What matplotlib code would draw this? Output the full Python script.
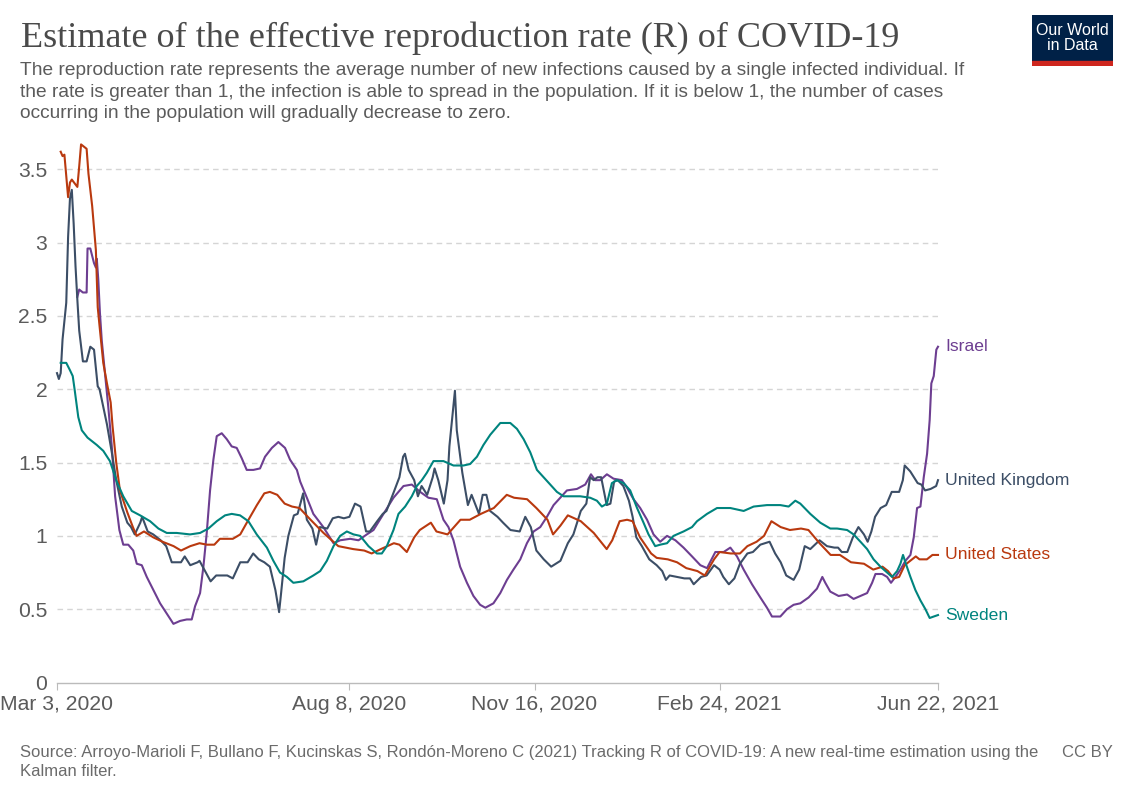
import matplotlib
matplotlib.use("Agg")
import matplotlib.pyplot as plt
import matplotlib.dates as mdates
import numpy as np
from datetime import datetime

# days since Mar 3, 2020 -> R estimate
us_days = [2, 3, 4, 6, 7, 8, 11, 12, 13, 16, 17, 19, 21, 22, 23, 25, 27, 29, 30, 32, 34, 38, 41, 43, 47, 52, 57, 63, 67,
           72, 77, 81, 85, 88, 95, 99, 103, 108, 112, 115, 119, 123, 127, 131, 137, 144, 152, 160, 166, 170, 175, 182,
           185, 189, 193, 196, 202, 205, 211, 218, 223, 229, 236, 243, 247, 254, 259, 265, 268, 272, 276, 283, 290,
           297, 300, 304, 308, 311, 315, 321, 324, 330, 335, 340, 346, 350, 355, 358, 364, 369, 373, 378, 382, 386,
           391, 396, 402, 406, 412, 418, 423, 429, 436, 441, 446, 449, 452, 455, 458, 464, 466, 470, 473, 476]
us_vals = [3.62, 3.59, 3.60, 3.31, 3.41, 3.43, 3.38, 3.52, 3.67, 3.64, 3.47, 3.25, 2.95, 2.56, 2.43, 2.18, 2.04, 1.91,
           1.75, 1.50, 1.31, 1.16, 1.06, 1.00, 1.03, 0.99, 0.96, 0.93, 0.90, 0.93, 0.95, 0.94, 0.94, 0.98, 0.98, 1.01,
           1.10, 1.21, 1.29, 1.30, 1.28, 1.22, 1.20, 1.19, 1.11, 1.02, 0.93, 0.91, 0.90, 0.88, 0.91, 0.95, 0.94, 0.89,
           0.99, 1.04, 1.09, 1.03, 1.01, 1.11, 1.11, 1.15, 1.19, 1.28, 1.26, 1.25, 1.19, 1.11, 1.01, 1.07, 1.14, 1.10,
           1.02, 0.91, 0.97, 1.10, 1.11, 1.10, 0.99, 0.88, 0.85, 0.84, 0.82, 0.78, 0.76, 0.73, 0.84, 0.89, 0.88, 0.88,
           0.93, 0.96, 1.00, 1.10, 1.06, 1.04, 1.05, 1.04, 0.95, 0.87, 0.87, 0.82, 0.81, 0.77, 0.79, 0.76, 0.71, 0.72,
           0.80, 0.86, 0.84, 0.84, 0.87, 0.87]

uk_days = [0, 1, 2, 3, 5, 6, 7, 8, 9, 10, 11, 12, 14, 16, 18, 20, 22, 23, 25, 27, 30, 32, 35, 38, 40, 42, 45, 46, 49,
           52, 56, 59, 62, 67, 69, 72, 76, 77, 80, 83, 86, 92, 95, 99, 103, 106, 109, 112, 115, 118, 120, 121, 123,
           125, 128, 130, 133, 135, 138, 140, 142, 146, 149, 152, 155, 158, 161, 164, 167, 169, 173, 176, 178, 182,
           185, 187, 188, 190, 193, 195, 197, 200, 203, 204, 206, 209, 211, 212, 215, 216, 219, 222, 224, 228, 230,
           232, 234, 238, 241, 245, 250, 253, 256, 259, 263, 267, 272, 276, 279, 283, 286, 288, 290, 292, 294, 297,
           299, 301, 303, 306, 309, 311, 313, 316, 320, 324, 327, 329, 331, 335, 339, 342, 344, 348, 351, 355, 358,
           360, 363, 366, 369, 373, 376, 380, 385, 388, 391, 394, 398, 401, 404, 407, 412, 416, 420, 422, 424, 427,
           430, 433, 436, 438, 440, 442, 445, 448, 449, 451, 455, 457, 458, 461, 465, 467, 469, 472, 475, 476]
uk_vals = [2.11, 2.07, 2.11, 2.34, 2.59, 3.04, 3.30, 3.36, 3.13, 2.84, 2.61, 2.40, 2.19, 2.19, 2.29, 2.27, 2.02, 2.00,
           1.88, 1.76, 1.54, 1.38, 1.20, 1.09, 1.06, 1.01, 1.09, 1.13, 1.03, 1.01, 0.97, 0.93, 0.82, 0.82, 0.86, 0.80,
           0.82, 0.83, 0.76, 0.69, 0.73, 0.73, 0.71, 0.82, 0.82, 0.88, 0.84, 0.82, 0.79, 0.63, 0.48, 0.60, 0.85, 1.00,
           1.14, 1.15, 1.29, 1.11, 1.05, 0.94, 1.06, 1.05, 1.12, 1.13, 1.12, 1.13, 1.22, 1.20, 1.03, 1.03, 1.10, 1.15,
           1.17, 1.30, 1.40, 1.54, 1.56, 1.45, 1.38, 1.27, 1.34, 1.28, 1.40, 1.46, 1.38, 1.22, 1.38, 1.61, 1.99, 1.72,
           1.43, 1.21, 1.28, 1.15, 1.28, 1.28, 1.17, 1.13, 1.09, 1.04, 1.03, 1.13, 1.06, 0.90, 0.84, 0.79, 0.83, 0.95,
           1.01, 1.17, 1.22, 1.40, 1.38, 1.40, 1.40, 1.21, 1.22, 1.37, 1.38, 1.34, 1.24, 1.13, 0.99, 0.93, 0.84, 0.80,
           0.76, 0.70, 0.73, 0.72, 0.71, 0.71, 0.67, 0.72, 0.73, 0.80, 0.77, 0.72, 0.67, 0.71, 0.81, 0.88, 0.89, 0.94,
           0.96, 0.88, 0.82, 0.73, 0.70, 0.77, 0.93, 0.91, 0.97, 0.93, 0.92, 0.92, 0.89, 0.89, 0.99, 1.06, 1.01, 0.96,
           1.03, 1.13, 1.19, 1.21, 1.24, 1.30, 1.30, 1.38, 1.48, 1.44, 1.36, 1.35, 1.31, 1.32, 1.34, 1.38]

israel_days = [11, 12, 14, 16, 16.5, 18, 20, 21, 21.5, 22.3, 23.2, 24.2, 25.9, 27.7, 29.6, 31.4, 33.7, 35.8, 38.5,
               41.2, 43.1, 45.8, 48.5, 52.1, 55.7, 59.3, 62.9, 66.5, 70.1, 72.8, 74.6, 77.3, 79.1, 80.9, 82.7, 84.5,
               86.3, 89, 91.7, 94.4, 97.1, 99.8, 102.5, 106.1, 109.7, 112.4, 116.1, 119.6, 123.2, 125.9, 129.6, 131.4,
               135, 138.5, 143.9, 149.4, 153, 158.4, 162.9, 167.4, 171, 176.4, 181.8, 187.2, 191.7, 196.2, 200.7,
               205.2, 208.8, 211.5, 214.2, 217.8, 221.5, 225, 228.6, 231.4, 235.8, 239.5, 243.1, 246.6, 250.3, 253.9,
               257.5, 261.1, 264.7, 268.3, 271.9, 275.5, 280.9, 285.4, 288.5, 290.8, 293.5, 297.1, 300.7, 305.2,
               307.9, 311.5, 315.1, 318.8, 322.3, 325.9, 329.6, 334.1, 338.5, 343.1, 347.6, 351.2, 355.7, 360.2,
               363.8, 367.4, 371, 375.5, 380, 383.6, 386.3, 390.8, 394.4, 398, 401.6, 406.1, 410.6, 413.5, 415.1,
               417.8, 422.3, 426.9, 430.4, 434.1, 437.7, 440.4, 442.2, 445.8, 448.5, 450.6, 453, 455.7, 458.4, 461.1,
               462.9, 464.7, 466.5, 468.3, 470.1, 471.5, 472.4, 473.7, 475.1, 476]
israel_vals = [2.63, 2.68, 2.66, 2.66, 2.96, 2.96, 2.86, 2.83, 2.89, 2.75, 2.52, 2.33, 2.11, 1.88, 1.61, 1.27, 1.04,
               0.94, 0.94, 0.90, 0.81, 0.80, 0.72, 0.63, 0.54, 0.47, 0.40, 0.42, 0.43, 0.43, 0.52, 0.61, 0.79, 1.02,
               1.31, 1.52, 1.68, 1.70, 1.66, 1.61, 1.60, 1.53, 1.45, 1.45, 1.46, 1.54, 1.60, 1.64, 1.60, 1.52, 1.45,
               1.37, 1.26, 1.15, 1.06, 0.95, 0.97, 0.98, 0.97, 1.01, 1.04, 1.15, 1.26, 1.34, 1.35, 1.30, 1.26, 1.25,
               1.11, 1.06, 0.97, 0.79, 0.68, 0.59, 0.53, 0.51, 0.54, 0.61, 0.70, 0.77, 0.84, 0.95, 1.03, 1.06, 1.13,
               1.21, 1.26, 1.31, 1.32, 1.35, 1.42, 1.38, 1.38, 1.42, 1.39, 1.38, 1.33, 1.25, 1.19, 1.11, 1.01, 0.96,
               1.00, 0.97, 0.92, 0.86, 0.80, 0.78, 0.89, 0.89, 0.92, 0.86, 0.77, 0.67, 0.58, 0.51, 0.45, 0.45, 0.50,
               0.53, 0.54, 0.58, 0.64, 0.72, 0.68, 0.62, 0.59, 0.60, 0.57, 0.59, 0.61, 0.68, 0.74, 0.74, 0.72, 0.68,
               0.72, 0.77, 0.83, 0.87, 0.99, 1.19, 1.20, 1.40, 1.56, 1.79, 2.04, 2.09, 2.27, 2.29]

sweden_days = [2, 5, 7, 8.5, 9.5, 11.5, 13.4, 16.5, 21.5, 25, 28.6, 32.3, 35.8, 40.4, 44.9, 50.3, 54.8, 59.3, 64.7,
               71.9, 77.3, 81.8, 86.3, 90.8, 94.4, 98.9, 103.4, 107.9, 113.4, 116.9, 120.5, 124.2, 127.7, 133.1,
               138.5, 142.2, 145.8, 149.4, 153, 156.6, 160.2, 163.8, 168.3, 172.8, 175.5, 178.2, 181.8, 184.5, 188.1,
               191.7, 194.4, 197.1, 199.8, 203.4, 208.8, 214.2, 219.6, 223.2, 226.9, 230.4, 234.1, 239.5, 244.9,
               248.5, 252.1, 255.7, 259.3, 262.9, 266.5, 270.1, 273.7, 282.7, 288.1, 291.7, 294.4, 297.1, 299.8,
               302.5, 306.1, 309.7, 313.4, 316.9, 319.6, 323.2, 325.9, 329.6, 333.1, 338.5, 343.1, 345.8, 351.2,
               356.6, 363.8, 371, 376.4, 383.6, 390.8, 395.3, 398.9, 401.6, 407, 412.4, 417.8, 421.5, 426.9, 430.4,
               434.1, 437.7, 441.2, 444.9, 448.5, 451.2, 453.9, 455.7, 457.1, 458.9, 461.1, 463.8, 466.5, 469.2,
               471.5, 473.7, 476]
sweden_vals = [2.18, 2.18, 2.13, 2.09, 2.00, 1.81, 1.72, 1.67, 1.62, 1.58, 1.51, 1.37, 1.27, 1.17, 1.14, 1.10, 1.05,
               1.02, 1.02, 1.01, 1.02, 1.05, 1.10, 1.14, 1.15, 1.14, 1.10, 1.01, 0.92, 0.83, 0.75, 0.72, 0.68, 0.69,
               0.73, 0.76, 0.83, 0.93, 1.00, 1.03, 1.01, 1.00, 0.93, 0.88, 0.88, 0.93, 1.04, 1.15, 1.20, 1.27, 1.34,
               1.38, 1.43, 1.51, 1.51, 1.48, 1.48, 1.49, 1.54, 1.62, 1.69, 1.77, 1.77, 1.73, 1.66, 1.57, 1.45, 1.40,
               1.35, 1.30, 1.27, 1.27, 1.26, 1.24, 1.20, 1.22, 1.36, 1.38, 1.36, 1.31, 1.19, 1.09, 1.01, 0.93, 0.94,
               0.95, 1.00, 1.03, 1.06, 1.10, 1.15, 1.19, 1.19, 1.17, 1.20, 1.21, 1.21, 1.20, 1.24, 1.22, 1.15, 1.09,
               1.05, 1.05, 1.04, 1.01, 0.96, 0.91, 0.84, 0.79, 0.75, 0.72, 0.76, 0.81, 0.87, 0.80, 0.72, 0.63, 0.56,
               0.50, 0.44, 0.45, 0.46]

tick_dates = [datetime(2020, 3, 3), datetime(2020, 8, 8), datetime(2020, 11, 16), datetime(2021, 2, 24),
              datetime(2021, 6, 22)]
tick_labels = ["Mar 3, 2020", "Aug 8, 2020", "Nov 16, 2020", "Feb 24, 2021", "Jun 22, 2021"]
y_ticks = [0, 0.5, 1, 1.5, 2, 2.5, 3, 3.5]
y_labels = ["0", "0.5", "1", "1.5", "2", "2.5", "3", "3.5"]

series = [
    ("Israel", israel_days, israel_vals, "#6d3e91"),
    ("United Kingdom", uk_days, uk_vals, "#3c4e66"),
    ("United States", us_days, us_vals, "#b9390f"),
    ("Sweden", sweden_days, sweden_vals, "#00847e"),
]

start = mdates.date2num(datetime(2020, 3, 3))
sans = "Liberation Sans"

fig = plt.figure(figsize=(11.33, 8), dpi=100)
ax = fig.add_axes([57 / 1133, 1 - 682.5 / 800, (938 - 57) / 1133, (682.5 - 140) / 800])

for name, d, v, c in series:
    x = start + np.array(d)
    ax.plot(x, v, color=c, lw=1.5, solid_joinstyle="round", clip_on=False)
    ax.annotate(name, (x[-1], v[-1]), xytext=(5, 0), textcoords="offset points", color=c,
                fontsize=12.6, family=sans, va="center", ha="left", annotation_clip=False)

ax.set_xlim(start, mdates.date2num(tick_dates[-1]))
ax.set_ylim(0, 3.70)
ax.set_xticks([mdates.date2num(t) for t in tick_dates])
ax.set_xticklabels(tick_labels, family=sans, fontsize=15.2, color="#5b5b5b")
ax.set_yticks(y_ticks)
ax.set_yticklabels(y_labels, family=sans, fontsize=15.2, color="#5b5b5b")
ax.tick_params(axis="x", length=5, color="#bbbbbb", pad=4)
ax.tick_params(axis="y", length=0, pad=7)

for yv in y_ticks[1:]:
    ax.axhline(yv, color="#d5d5d5", lw=1, ls=(0, (4, 3)), zorder=0)

for s in ["top", "right", "left"]:
    ax.spines[s].set_visible(False)
ax.spines["bottom"].set_color("#bbbbbb")
ax.spines["bottom"].set_linewidth(1)

fig.text(21 / 1133, 1 - 38 / 800, "Estimate of the effective reproduction rate (R) of COVID-19",
         family="Liberation Serif", fontsize=26, color="#4a4a4a", va="center", ha="left")
fig.text(20 / 1133, 1 - 62 / 800,
         "The reproduction rate represents the average number of new infections caused by a single infected individual. If\n"
         "the rate is greater than 1, the infection is able to spread in the population. If it is below 1, the number of cases\n"
         "occurring in the population will gradually decrease to zero.",
         family=sans, fontsize=13.8, color="#5b5b5b", va="top", ha="left", linespacing=1.36)

fig.text(20 / 1133, 1 - 745 / 800,
         "Source: Arroyo-Marioli F, Bullano F, Kucinskas S, Rondón-Moreno C (2021) Tracking R of COVID-19: A new real-time estimation using the\n"
         "Kalman filter.",
         family=sans, fontsize=12, color="#6b6b6b", va="top", ha="left", linespacing=1.3)
fig.text(1113 / 1133, 1 - 745 / 800, "CC BY", family=sans, fontsize=12, color="#6b6b6b", va="top", ha="right")

# logo
logo = fig.add_axes([1032 / 1133, 1 - 66 / 800, 81 / 1133, 51 / 800])
logo.set_xlim(0, 1)
logo.set_ylim(0, 1)
logo.axis("off")
logo.add_patch(plt.Rectangle((0, 0.09), 1, 0.91, color="#002147"))
logo.add_patch(plt.Rectangle((0, 0), 1, 0.09, color="#ce261e"))
logo.text(0.5, 0.55, "Our World\nin Data", color="white", ha="center", va="center", family=sans,
          fontsize=11.5, linespacing=1.0)

fig.savefig("out.png", dpi=100)
